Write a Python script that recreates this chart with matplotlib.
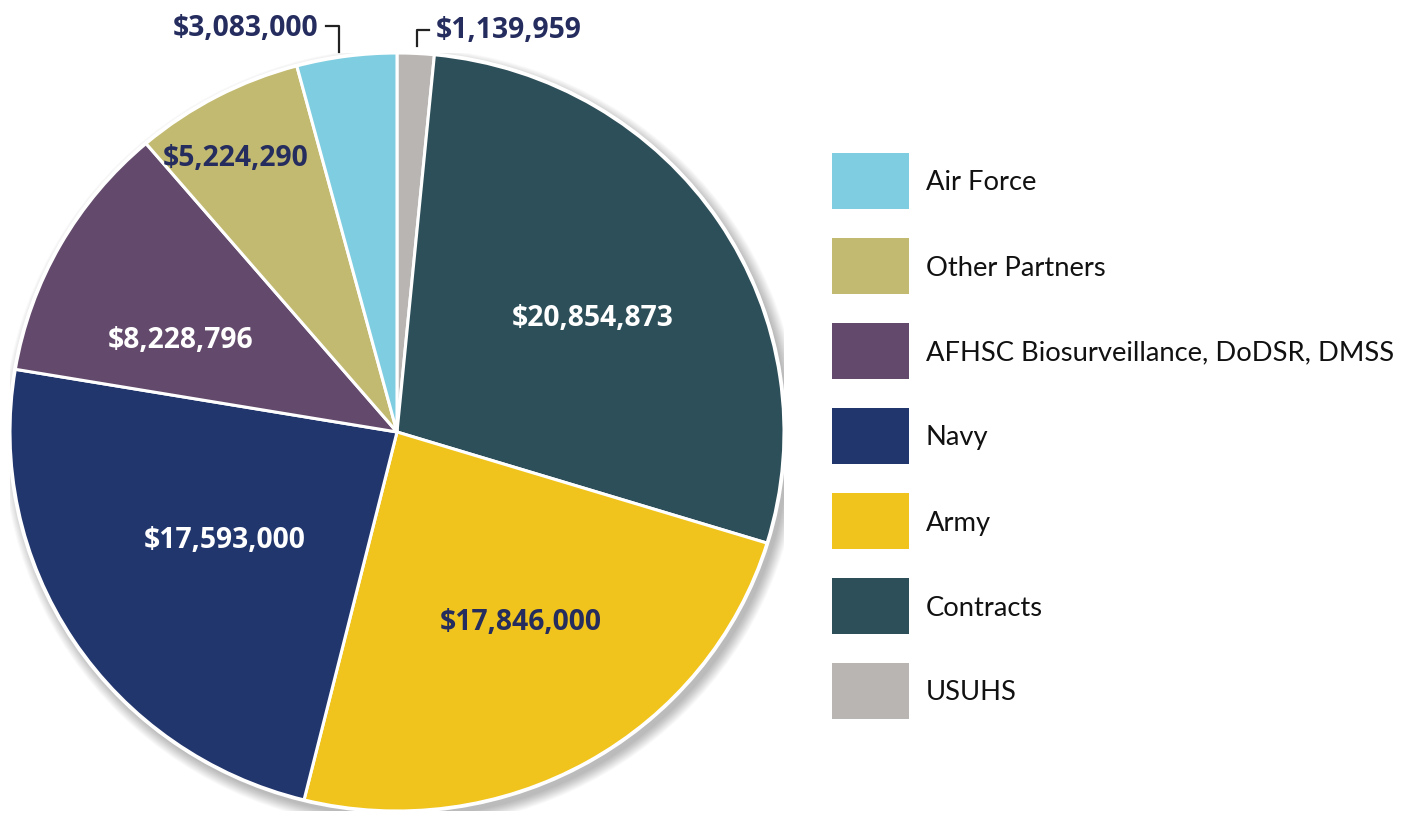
import matplotlib.pyplot as plt
import matplotlib.patches as mpatches
import numpy as np

plt.rcParams['font.family'] = ['Lato', 'DejaVu Sans']

# data (clockwise from 12 o'clock)
names = ['USUHS', 'Contracts', 'Army', 'Navy',
         'AFHSC Biosurveillance, DoDSR, DMSS', 'Other Partners', 'Air Force']
values = [1139959, 20854873, 17846000, 17593000, 8228796, 5224290, 3083000]
colors = ['#b9b5b3', '#2d4f59', '#f0c41c', '#22366e', '#634a6c', '#c2ba70', '#7ecde0']
legend_order = ['Air Force', 'Other Partners', 'AFHSC Biosurveillance, DoDSR, DMSS',
                'Navy', 'Army', 'Contracts', 'USUHS']

navy_txt = '#252c5e'
lab_font = ['Open Sans', 'DejaVu Sans']
lab_size = 20.3

W, H = 1411, 815
fig = plt.figure(figsize=(W / 100, H / 100), dpi=100)

# pie axes: slightly squashed ellipse like the original
cx, cy, rx, ry = 397, 432, 387, 379
axp = fig.add_axes([(cx - rx) / W, (H - cy - ry) / H, 2 * rx / W, 2 * ry / H])

# soft shadow behind the pie
for i in range(12):
    axp.add_patch(mpatches.Circle((0.012, -0.016), 1.03 - i * 0.0026, color='black',
                                  alpha=0.025, lw=0, zorder=0))
axp.add_patch(mpatches.Circle((0, 0), 1.006, color='white', lw=0, zorder=1))

wedges, _ = axp.pie(values, colors=colors, startangle=90, counterclock=False,
                    radius=1, wedgeprops=dict(edgecolor='white', linewidth=2.2))
for w in wedges:
    w.set_zorder(2)
axp.set_xlim(-1, 1)
axp.set_ylim(-1, 1)
axp.set_aspect('auto')
axp.axis('off')

# overlay axes in pixel units for text and legend
ax = fig.add_axes([0, 0, 1, 1])
ax.set_xlim(0, W)
ax.set_ylim(0, H)
ax.axis('off')

def money(v):
    return '${:,}'.format(v)

# labels inside slices
inside = {'Contracts': ((593, 319), 'white'),
          'Army': ((521, 623), navy_txt),
          'Navy': ((225, 540), 'white'),
          'AFHSC Biosurveillance, DoDSR, DMSS': ((181, 340), 'white'),
          'Other Partners': ((236, 158), navy_txt)}
for n, v in zip(names, values):
    if n in inside:
        (px, py), c = inside[n]
        ax.text(px, H - py, money(v), color=c, fontsize=lab_size, fontweight='bold',
                family=lab_font, ha='center', va='center', zorder=5)

# outside labels with bracket leader lines
ax.plot([326, 339, 339], [H - 26, H - 26, H - 52], color='#222222', lw=1.6, zorder=5)
ax.text(318, H - 28, money(values[names.index('Air Force')]), color=navy_txt,
        fontsize=lab_size, fontweight='bold', family=lab_font, ha='right', va='center')
ax.plot([417, 417, 429], [H - 46, H - 30, H - 30], color='#222222', lw=1.6, zorder=5)
ax.text(436, H - 30, money(values[names.index('USUHS')]), color=navy_txt,
        fontsize=lab_size, fontweight='bold', family=lab_font, ha='left', va='center')

# legend
for i, n in enumerate(legend_order):
    top = 153 + i * 85
    c = colors[names.index(n)]
    ax.add_patch(mpatches.Rectangle((832, H - top - 56), 77, 56, color=c, lw=0))
    ax.text(926, H - top - 30, n, fontsize=19.7, color='#111111', ha='left', va='center')

plt.savefig('out.png', dpi=100)
